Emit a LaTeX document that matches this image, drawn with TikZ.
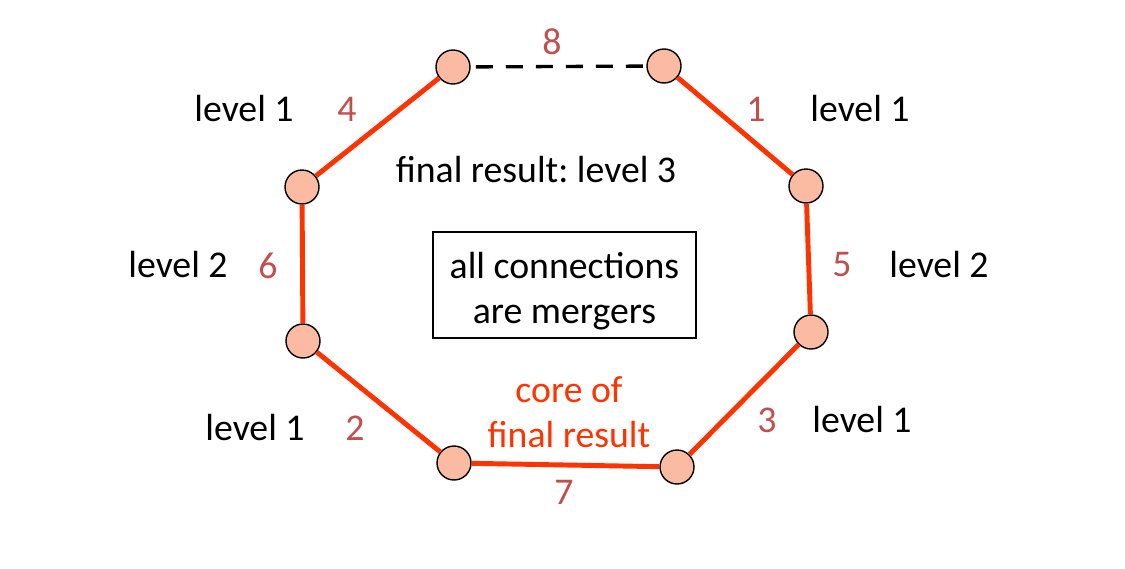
\documentclass[tikz,border=0pt]{standalone}
\usepackage{fontspec}
\setmainfont{Carlito}
\frenchspacing
\definecolor{edgered}{RGB}{255,51,0}
\definecolor{nodefill}{RGB}{251,187,163}
\definecolor{numred}{RGB}{192,80,77}
\begin{document}
\begin{tikzpicture}[x=0.02cm,y=-0.02cm,
    txt/.style={font=\fontsize{21.5}{25.6}\selectfont},
    num/.style={txt,text=numred}]

        \useasboundingbox (0,0) rectangle (1125,568);

        \begin{scope}[every node/.style={circle,draw,thick,fill=nodefill,minimum size=0.68cm,inner sep=0pt}]
          \node (tl) at (453,67)  {};
          \node (tr) at (664,66)  {};
          \node (ru) at (806,186) {};
          \node (rl) at (811,332) {};
          \node (br) at (677,467) {};
          \node (bl) at (454,463) {};
          \node (ll) at (303,341) {};
          \node (lu) at (302,187) {};
        \end{scope}

        \begin{scope}[every edge/.style={draw,edgered,line width=2.8pt}]
          \path (tr) edge (ru);
          \path (ru) edge (rl);
          \path (rl) edge (br);
          \path (br) edge (bl);
          \path (bl) edge (ll);
          \path (ll) edge (lu);
          \path (lu) edge (tl);
        \end{scope}
        \draw[line width=1.9pt,dash pattern=on 0.34cm off 0.26cm,shorten <=3pt,shorten >=1pt] (tl) -- (tr);

        % edge numbers
        \begin{scope}[every node/.style={num}]
          \node (n8) at (552,42)  {8};
          \node (n1) at (756,109) {1};
          \node (n4) at (347,109) {4};
          \node (n6) at (268,266) {6};
          \node (n5) at (842,265) {5};
          \node (n2) at (355,428) {2};
          \node (n3) at (767,420) {3};
          \node (n7) at (564,492) {7};
        \end{scope}

        % levels
        \begin{scope}[every node/.style={txt}]
          \node (lv4) at (244,109) {level 1};
          \node (lv1) at (860,109) {level 1};
          \node (lv6) at (178,265) {level 2};
          \node (lv5) at (939,265) {level 2};
          \node (lv2) at (255,428) {level 1};
          \node (lv3) at (862,420) {level 1};
          \node (final) at (536,170) {final result: level 3};
        \end{scope}

        \node[txt,align=center] (merge) at (564.5,291) {all connections\\are mergers};
        \draw[semithick] ([shift={(-131.5,-59)}]merge.center) rectangle ([shift={(131.5,47)}]merge.center);
        \node[txt,text=edgered,align=center] (core) at (569,412) {core of\\final result};

      \end{tikzpicture}
\end{document}
